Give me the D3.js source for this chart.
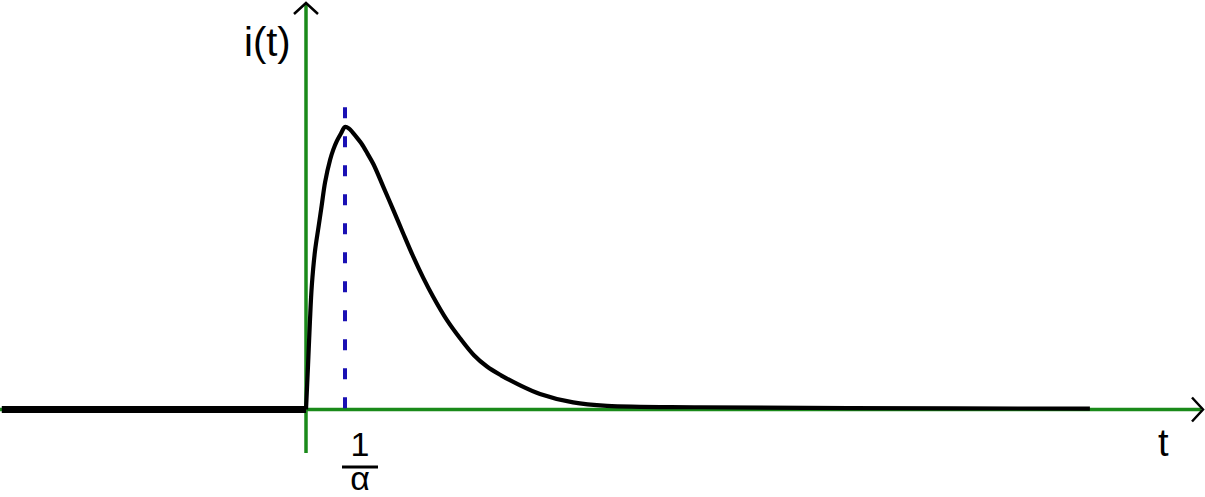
<!DOCTYPE html>
<html>
<head>
<meta charset="utf-8">
<script src="https://cdn.jsdelivr.net/npm/d3@7"></script>
<style>
  body { margin: 0; background: #fff; }
  svg { display: block; }
  text { font-family: "Liberation Sans", Arial, sans-serif; fill: #000; }
</style>
</head>
<body>
<script>
"use strict";

var width = 1205;
var height = 497;

// curve, t in units of 1/alpha, i normalised to the peak
var tVals = [0, 0.05, 0.10, 0.15, 0.23, 0.32, 0.40, 0.49, 0.62, 0.70, 0.79, 0.9, 1.0,
             1.1, 1.2, 1.33, 1.43, 1.58, 1.73, 1.98, 2.24, 2.49, 2.75, 3.01, 3.26, 3.61,
             3.95, 4.30, 4.64, 5.0, 5.44, 6.0, 6.85, 7.72, 10.1, 13.9, 20.1];
var iVals = [0, 0.15, 0.31, 0.44, 0.56, 0.645, 0.72, 0.805, 0.885, 0.92, 0.95, 0.978, 1.0,
             0.995, 0.98, 0.958, 0.94, 0.905, 0.868, 0.789, 0.706, 0.624, 0.541, 0.465, 0.399, 0.317,
             0.252, 0.193, 0.152, 0.121, 0.089, 0.055, 0.025, 0.013, 0.008, 0.005, 0.003];
var zeroPart = [-7.8, 0];      // i(t) = 0 for t < 0
var peakT = 1;                 // t = 1/alpha
var axisLabels = ["i(t)", "t"];

var green = "#1a8a1a";
var blue = "#1a10b4";

var x = d3.scaleLinear().domain([-306 / 39, 899 / 39]).range([0, width]);
var y = d3.scaleLinear().domain([0, 1]).range([409.5, 127]);

var svg = d3.select("body").append("svg")
    .attr("width", width)
    .attr("height", height);

// axes
svg.append("line")
    .attr("x1", x(-7.85)).attr("x2", 1201)
    .attr("y1", y(0)).attr("y2", y(0))
    .attr("stroke", green).attr("stroke-width", 3.5);

svg.append("line")
    .attr("x1", x(0)).attr("x2", x(0))
    .attr("y1", 3).attr("y2", 453)
    .attr("stroke", green).attr("stroke-width", 3.5);

// arrow heads
svg.append("path")
    .attr("d", `M${x(0) - 12},14 L${x(0)},3 L${x(0) + 12},14`)
    .attr("fill", "none").attr("stroke", "#000").attr("stroke-width", 2.5);

svg.append("path")
    .attr("d", `M1192,${y(0) - 12} L1203,${y(0)} L1192,${y(0) + 12}`)
    .attr("fill", "none").attr("stroke", "#000").attr("stroke-width", 2.5);

// zero part before t=0
svg.append("line")
    .attr("x1", x(zeroPart[0])).attr("x2", x(zeroPart[1]))
    .attr("y1", y(0)).attr("y2", y(0))
    .attr("stroke", "#000").attr("stroke-width", 7);

// dashed line at 1/alpha
svg.append("line")
    .attr("x1", x(peakT)).attr("x2", x(peakT))
    .attr("y1", y(1.07)).attr("y2", y(0))
    .attr("stroke", blue).attr("stroke-width", 4)
    .attr("stroke-dasharray", "11,18");

// the pulse
var line = d3.line()
    .x(function (d) { return x(d[0]); })
    .y(function (d) { return y(d[1]); })
    .curve(d3.curveCatmullRom.alpha(0.5));

svg.append("path")
    .datum(d3.zip(tVals, iVals))
    .attr("d", line)
    .attr("fill", "none")
    .attr("stroke", "#000")
    .attr("stroke-width", 4.2)
    .attr("stroke-linejoin", "round");

// labels
svg.append("text")
    .attr("x", 244).attr("y", 56)
    .style("font-size", "40px")
    .text(axisLabels[0]);

svg.append("text")
    .attr("x", 1158).attr("y", 456)
    .style("font-size", "38px")
    .text(axisLabels[1]);

var fx = x(peakT) + 15;
svg.append("text")
    .attr("x", fx).attr("y", 456)
    .attr("text-anchor", "middle")
    .style("font-size", "34px")
    .text("1");

svg.append("line")
    .attr("x1", fx - 18).attr("x2", fx + 18)
    .attr("y1", 467).attr("y2", 467)
    .attr("stroke", "#000").attr("stroke-width", 3);

svg.append("text")
    .attr("x", fx).attr("y", 490)
    .attr("text-anchor", "middle")
    .style("font-size", "34px")
    .text("α");
</script>
</body>
</html>
